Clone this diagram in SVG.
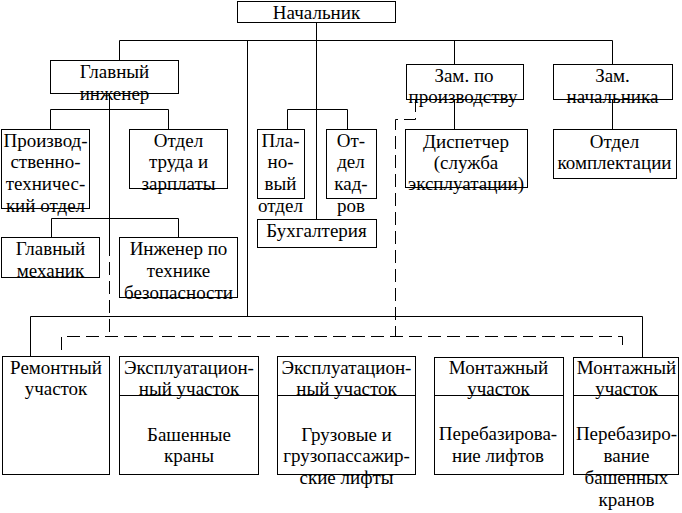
<svg xmlns="http://www.w3.org/2000/svg" width="682" height="513" viewBox="0 0 682 513">
<style>
rect.b{fill:#fff;stroke:#000;stroke-width:1}
line.d,path.d{fill:none;stroke:#000;stroke-width:1}
.c path{fill:none;stroke:#000;stroke-width:1}
.c path.dash{stroke-dasharray:13 6}
text{font-family:"Liberation Serif","Times New Roman",serif;font-size:19px;fill:#000;text-anchor:middle}
</style>
<rect width="682" height="513" fill="#fff"/>
<g class="c" id="connectors">
<path d="M316.5,22 V219"/>
<path d="M119.5,60 V40.5 H612.5 V64"/>
<path d="M454.5,40.5 V64"/>
<path d="M247.5,40.5 V316.5"/>
<path d="M30.5,356 V316.5 H642.5 V357"/>
<path d="M50.5,129 V109.5 H168.5 V129"/>
<path d="M109.5,93 V243"/>
<path d="M51.5,237 V218.5 H178.5 V237"/>
<path d="M287.5,129 V109.5 H347.5 V129"/>
<path d="M454.5,99 V129"/>
<path d="M612.5,99 V129"/>
<path class="dash" d="M109.5,243 V336.5"/>
<path class="dash" d="M61.5,350 V336.5 H622.5 V350"/>
<path class="dash" d="M415.5,99 V119.5 H395.5 V336.5"/>
</g>
<g id="nachalnik"><rect class="b" x="237.5" y="1.5" width="158" height="21"/><text x="316.5" y="19">Начальник</text></g>
<g id="glavny-inzhener"><rect class="b" x="50.5" y="60.5" width="128" height="33"/><text x="114.5" y="78">Главный</text><text x="114.5" y="100">инженер</text></g>
<g id="zam-proizv"><rect class="b" x="406.5" y="64.5" width="117" height="35"/><text x="464" y="82">Зам. по</text><text x="463" y="103">производству</text></g>
<g id="zam-nach"><rect class="b" x="553.5" y="64.5" width="119" height="35"/><text x="612.5" y="82">Зам.</text><text x="612.5" y="103">начальника</text></g>
<g id="pto"><rect class="b" x="1.5" y="129.5" width="88" height="79"/><text x="45.5" y="147">Производ-</text><text x="45.5" y="168">ственно-</text><text x="45.5" y="190">техничес-</text><text x="45.5" y="212">кий отдел</text></g>
<g id="otdel-truda"><rect class="b" x="129.5" y="129.5" width="98" height="59"/><text x="178.5" y="147">Отдел</text><text x="178.5" y="168">труда и</text><text x="178.5" y="190">зарплаты</text></g>
<g id="planovy"><rect class="b" x="257.5" y="129.5" width="47" height="69"/><text x="280.5" y="147">Пла-</text><text x="280.5" y="168">но-</text><text x="280.5" y="190">вый</text><text x="280.5" y="212">отдел</text></g>
<g id="kadry"><rect class="b" x="326.5" y="129.5" width="50" height="69"/><text x="351" y="147">От-</text><text x="351" y="168">дел</text><text x="351" y="190">кад-</text><text x="351" y="212">ров</text></g>
<g id="buhgalteria"><rect class="b" x="257.5" y="219.5" width="119" height="28"/><text x="316.5" y="237">Бухгалтерия</text></g>
<g id="dispetcher"><rect class="b" x="405.5" y="129.5" width="122" height="58"/><text x="466" y="148">Диспетчер</text><text x="466" y="169">(служба</text><text x="466" y="190">эксплуатации)</text></g>
<g id="komplektacia"><rect class="b" x="553.5" y="129.5" width="123" height="49"/><text x="614.5" y="148">Отдел</text><text x="614.5" y="169">комплектации</text></g>
<g id="glavny-mehanik"><rect class="b" x="1.5" y="237.5" width="98" height="40"/><text x="50.5" y="255">Главный</text><text x="50.5" y="277">механик</text></g>
<g id="inzhener-tb"><rect class="b" x="119.5" y="237.5" width="118" height="60"/><text x="178.5" y="255">Инженер по</text><text x="178.5" y="277">технике</text><text x="178.5" y="299">безопасности</text></g>
<g id="remontny"><rect class="b" x="2.5" y="356.5" width="107" height="118"/><text x="56" y="374">Ремонтный</text><text x="56" y="395">участок</text></g>
<g id="ekspl-1"><rect class="b" x="119.5" y="356.5" width="139" height="118"/><line class="d" x1="119.5" y1="395.5" x2="258.5" y2="395.5"/><text x="189" y="374">Эксплуатацион-</text><text x="189" y="395">ный участок</text><text x="189" y="441">Башенные</text><text x="189" y="462">краны</text></g>
<g id="ekspl-2"><rect class="b" x="277.5" y="356.5" width="138" height="118"/><line class="d" x1="277.5" y1="395.5" x2="415.5" y2="395.5"/><text x="346.5" y="374">Эксплуатацион-</text><text x="346.5" y="395">ный участок</text><text x="346.5" y="441">Грузовые и</text><text x="346.5" y="462">грузопассажир-</text><text x="346.5" y="484">ские лифты</text></g>
<g id="montazh-1"><rect class="b" x="434.5" y="357.5" width="129" height="117"/><line class="d" x1="434.5" y1="395.5" x2="563.5" y2="395.5"/><text x="498.5" y="374">Монтажный</text><text x="498.5" y="395">участок</text><text x="498" y="440">Перебазирова-</text><text x="498" y="462">ние лифтов</text></g>
<g id="montazh-2"><rect class="b" x="573.5" y="357.5" width="105" height="117"/><line class="d" x1="573.5" y1="395.5" x2="678.5" y2="395.5"/><text x="626.5" y="374">Монтажный</text><text x="626.5" y="395">участок</text><text x="626.5" y="440">Перебазиро-</text><text x="626.5" y="462">вание</text><text x="626.5" y="484">башенных</text><text x="626.5" y="506">кранов</text></g>
</svg>
